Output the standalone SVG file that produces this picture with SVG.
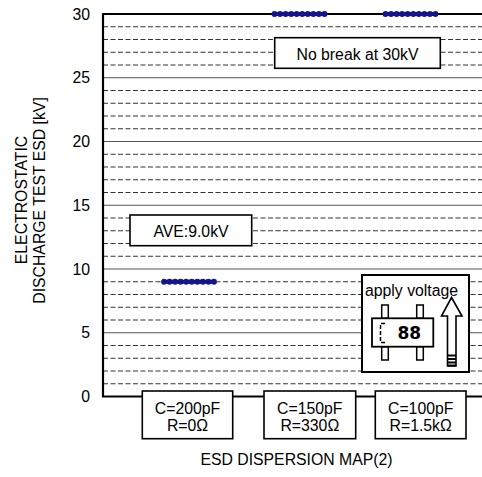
<svg xmlns="http://www.w3.org/2000/svg" xmlns:xlink="http://www.w3.org/1999/xlink" width="482" height="477" viewBox="0 0 482 477">
<style>
text{font-family:"Liberation Sans",Arial,sans-serif;font-size:15.8px;fill:#000}
.grid{stroke:#333;stroke-width:1;stroke-dasharray:5 2.5;fill:none}
.major{stroke:#555;stroke-width:1.2;fill:none}
.axis{stroke:#000;stroke-width:2.2;fill:none}
.box{fill:#fff;stroke:#000;stroke-width:1.6}
.dot{fill:#14148c}
.mid{text-anchor:middle}
.end{text-anchor:end}
</style>
<defs>
<g id="dots">
<line x1="0" y1="0" x2="50" y2="0" stroke="#14148c" stroke-width="4"/>
<circle class="dot" cx="0" cy="0" r="2.9"/><circle class="dot" cx="5.55" cy="0" r="2.9"/><circle class="dot" cx="11.1" cy="0" r="2.9"/><circle class="dot" cx="16.65" cy="0" r="2.9"/><circle class="dot" cx="22.2" cy="0" r="2.9"/><circle class="dot" cx="27.75" cy="0" r="2.9"/><circle class="dot" cx="33.3" cy="0" r="2.9"/><circle class="dot" cx="38.85" cy="0" r="2.9"/><circle class="dot" cx="44.4" cy="0" r="2.9"/><circle class="dot" cx="50" cy="0" r="2.9"/>
</g>
</defs>
<rect width="482" height="477" fill="#fff"/>
<g id="grid">
<path class="grid" d="M103,383.75H482M103,371H482M103,358.25H482M103,345.5H482M103,320H482M103,307.25H482M103,294.5H482M103,281.75H482M103,256.25H482M103,243.5H482M103,230.75H482M103,218H482M103,192.5H482M103,179.75H482M103,167H482M103,154.25H482M103,128.75H482M103,116H482M103,103.25H482M103,90.5H482M103,65H482M103,52.25H482M103,39.5H482M103,26.75H482"/>
<path class="major" d="M103,332.75H482M103,269H482M103,205.25H482M103,141.5H482M103,77.75H482"/>
</g>
<g id="axes">
<path class="axis" d="M103,14H482M103,13V397.5M103,396.5H482"/>
<text class="end" x="90" y="19.5">30</text>
<text class="end" x="90" y="83.25">25</text>
<text class="end" x="90" y="147">20</text>
<text class="end" x="90" y="210.75">15</text>
<text class="end" x="90" y="274.5">10</text>
<text class="end" x="90" y="338.25">5</text>
<text class="end" x="90" y="402">0</text>
<text class="mid" transform="translate(27,200) rotate(-90)">ELECTROSTATIC</text>
<text class="mid" transform="translate(45,200.5) rotate(-90)">DISCHARGE TEST ESD [kV]</text>
</g>
<g id="data">
<use xlink:href="#dots" x="164" y="281.75"/>
<use xlink:href="#dots" x="274.5" y="14"/>
<use xlink:href="#dots" x="385.5" y="14"/>
</g>
<g id="note-ave">
<rect class="box" x="130" y="215" width="121.7" height="30.7"/>
<text class="mid" x="191" y="236.5">AVE:9.0kV</text>
</g>
<g id="note-nobreak">
<rect class="box" x="274.7" y="37.7" width="165.6" height="30.6"/>
<text class="mid" x="357.5" y="59.5">No break at 30kV</text>
</g>
<g id="cond1">
<rect class="box" x="142.3" y="391" width="90.4" height="47.7"/>
<text class="mid" x="187.5" y="413.5">C=200pF</text>
<text class="mid" x="187.5" y="431">R=0Ω</text>
</g>
<g id="cond2">
<rect class="box" x="264" y="391" width="91.7" height="47.7"/>
<text class="mid" x="309.8" y="413.5">C=150pF</text>
<text class="mid" x="309.8" y="431">R=330Ω</text>
</g>
<g id="cond3">
<rect class="box" x="375.3" y="391" width="90.7" height="47.7"/>
<text class="mid" x="420.7" y="413.5">C=100pF</text>
<text class="mid" x="420.7" y="431">R=1.5kΩ</text>
</g>
<g id="inset">
<rect x="362" y="275" width="107" height="97" fill="#fff" stroke="#000" stroke-width="2"/>
<rect x="381.7" y="305" width="6.6" height="13.3" fill="#fff" stroke="#000" stroke-width="1.5"/>
<rect x="416.7" y="305" width="6.6" height="13.3" fill="#fff" stroke="#000" stroke-width="1.5"/>
<rect x="381.7" y="346.7" width="6.6" height="13.3" fill="#fff" stroke="#000" stroke-width="1.5"/>
<rect x="416.7" y="346.7" width="6.6" height="13.3" fill="#fff" stroke="#000" stroke-width="1.5"/>
<rect x="372" y="318.3" width="61.3" height="28.4" fill="#fff" stroke="#000" stroke-width="1.8"/>
<path d="M385,323.5H380.5V342.5H385" fill="none" stroke="#000" stroke-width="1.5" stroke-dasharray="4 2"/>
<text x="397.5" y="338.5" style="font-family:'DejaVu Sans',sans-serif;font-weight:bold;font-size:17px">88</text>
<path d="M451.5,297.5L462,316H456V366H447.5V316H441.5Z" fill="#fff" stroke="#000" stroke-width="1.6"/>
<path d="M447.5,355.5H456M447.5,359H456M447.5,362.5H456M447.5,365.5H456" stroke="#000" stroke-width="2.2"/>
<text x="365" y="296.3">apply voltage</text>
</g>
<text class="mid" x="296.5" y="464.5">ESD DISPERSION MAP(2)</text>
</svg>
